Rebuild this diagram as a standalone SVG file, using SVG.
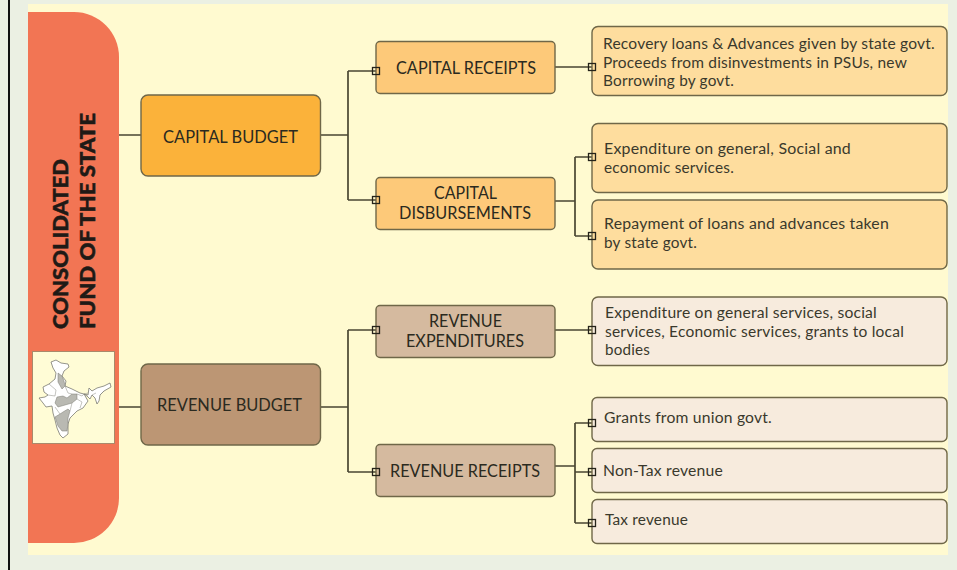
<svg xmlns="http://www.w3.org/2000/svg" width="957" height="570" viewBox="0 0 957 570">
<style>
.box{stroke:#6f6748;stroke-width:1.4}
.t{font-family:"Lato","Liberation Sans",sans-serif;fill:#2b2a20;text-anchor:start}
.h{font-size:17.5px}
.s{font-size:15.5px;letter-spacing:.2px;fill:#3a392c}
.title{font-family:"Lato","Liberation Sans",sans-serif;font-weight:900;font-size:21.5px;fill:#1f1a16;stroke:#1f1a16;stroke-width:.5}
.wire{fill:none;stroke:#4a4632;stroke-width:1.7}
.port{fill:none;stroke:#25231a;stroke-width:1.3}
.a{fill:#FBB23A}.b{fill:#FDC979}.c{fill:#FEDD9E}.d{fill:#BC9674}.e{fill:#D5BA9F}.f{fill:#F7EBDD}
</style>
<rect width="957" height="570" fill="#EBF0E3"/>
<rect x="8" y="0" width="2" height="570" fill="#111"/>
<rect x="28" y="4" width="920" height="551" fill="#FFFAD0"/>

<g id="fund">
<path d="M28 12H74A45 45 0 0 1 119 57V498A45 45 0 0 1 74 543H28Z" fill="#F27554"/>
<text class="title" transform="translate(68 329) rotate(-90)" textLength="170" lengthAdjust="spacingAndGlyphs">CONSOLIDATED</text>
<text class="title" transform="translate(95 329) rotate(-90)" textLength="216" lengthAdjust="spacingAndGlyphs">FUND OF THE STATE</text>
<rect x="32.500" y="351.500" width="82" height="92" fill="#FFFCD6" stroke="#a9896b" stroke-width="1"/>
<path d="M51 362L56 360L61 363L68 364L69 367L64 371L62 376L66 381L65 386L72 389L80 393L88 395L89 388L92 391L97 388L104 386L110 383L111 387L104 391L100 395L99 401L97 404L95 398L92 395L90 399L87 396L84 394L88 401L83 408L77 411L70 418L68 424L68 434L63 438L60 435L57 428L55 420L53 413L52 406L46 407L43 403L39 398L45 397L48 395L44 392L43 387L49 384L55 379L56 373L53 368Z" fill="#fff" stroke="#7b7b72" stroke-width=".8"/>
<path d="M58 373L62 376L64 381L65 386L62 389L58 382ZM55 403L57 397L63 396L67 398L72 394L77 394L77 399L72 403L65 405L58 407ZM55 417L60 414L63 412L68 409L70 411L68 418L68 424L67 431L62 431L58 426Z" fill="#b9b9b2" stroke="#7b7b72" stroke-width=".5"/>
<path d="M49 384L56 390L55 396L48 395M65 386L68 393L72 394M77 394L82 396L84 394M77 399L82 402L80 408M72 403L70 411M55 407L60 414M92 395L96 393M100 395L104 391M84 394L88 393" fill="none" stroke="#8a8a82" stroke-width=".5"/>
</g>

<g id="connectors">
<path class="wire" d="M119 407H141M119 135H141M320 135H348M348 71V200M348 71H376M348 200H376"/>
<path class="wire" d="M320 407H348M348 330V472M348 330H376M348 472H376"/>
<path class="wire" d="M555 67H592M555 201H575M575 157V236M575 157H592M575 236H592"/>
<path class="wire" d="M555 330H592M555 466H575M575 423V523M575 423H592M575 472H592M575 523H592"/>
</g>

<g id="capital-budget"><rect class="box a" x="141" y="95" width="179.500" height="81" rx="7"/><text class="t h" x="163" y="143" textLength="135" lengthAdjust="spacingAndGlyphs">CAPITAL BUDGET</text></g>
<g id="revenue-budget"><rect class="box d" x="141" y="364" width="179.500" height="81" rx="7"/><text class="t h" x="157" y="411" textLength="145" lengthAdjust="spacingAndGlyphs">REVENUE BUDGET</text></g>

<g id="capital-receipts"><rect class="box b" x="376" y="41.500" width="179" height="52" rx="4"/><text class="t h" x="396" y="74" textLength="140" lengthAdjust="spacingAndGlyphs">CAPITAL RECEIPTS</text></g>
<g id="capital-disbursements"><rect class="box b" x="376" y="177.500" width="179" height="52" rx="4"/><text class="t h" x="434" y="199" textLength="63" lengthAdjust="spacingAndGlyphs">CAPITAL</text><text class="t h" x="399" y="219" textLength="132" lengthAdjust="spacingAndGlyphs">DISBURSEMENTS</text></g>
<g id="revenue-expenditures"><rect class="box e" x="376" y="305.500" width="179" height="52" rx="4"/><text class="t h" x="429" y="327" textLength="73" lengthAdjust="spacingAndGlyphs">REVENUE</text><text class="t h" x="406" y="347" textLength="118" lengthAdjust="spacingAndGlyphs">EXPENDITURES</text></g>
<g id="revenue-receipts"><rect class="box e" x="376" y="444.500" width="179" height="52" rx="4"/><text class="t h" x="390" y="477" textLength="150" lengthAdjust="spacingAndGlyphs">REVENUE RECEIPTS</text></g>

<g id="recovery"><rect class="box c" x="592" y="26.500" width="355" height="69" rx="6"/>
<text class="t s" x="603" y="49" textLength="332" lengthAdjust="spacingAndGlyphs">Recovery loans &amp; Advances given by state govt.</text>
<text class="t s" x="603" y="67.500" textLength="304" lengthAdjust="spacingAndGlyphs">Proceeds from disinvestments in PSUs, new</text>
<text class="t s" x="603" y="86" textLength="131" lengthAdjust="spacingAndGlyphs">Borrowing by govt.</text></g>
<g id="expenditure-general"><rect class="box c" x="592" y="123.500" width="355" height="69" rx="6"/>
<text class="t s" x="604" y="154" textLength="247" lengthAdjust="spacingAndGlyphs">Expenditure on general, Social and</text>
<text class="t s" x="604" y="172.500" textLength="130" lengthAdjust="spacingAndGlyphs">economic services.</text></g>
<g id="repayment"><rect class="box c" x="592" y="200" width="355" height="69" rx="6"/>
<text class="t s" x="604" y="229" textLength="285" lengthAdjust="spacingAndGlyphs">Repayment of loans and advances taken</text>
<text class="t s" x="604" y="248" textLength="93" lengthAdjust="spacingAndGlyphs">by state govt.</text></g>
<g id="revenue-expenditure-detail"><rect class="box f" x="592" y="297" width="355" height="68.500" rx="6"/>
<text class="t s" x="605" y="318" textLength="272" lengthAdjust="spacingAndGlyphs">Expenditure on general services, social</text>
<text class="t s" x="605" y="337" textLength="299" lengthAdjust="spacingAndGlyphs">services, Economic services, grants to local</text>
<text class="t s" x="605" y="355" textLength="45" lengthAdjust="spacingAndGlyphs">bodies</text></g>
<g id="grants"><rect class="box f" x="592" y="397.500" width="355" height="44" rx="5"/><text class="t s" x="604" y="423" textLength="168" lengthAdjust="spacingAndGlyphs">Grants from union govt.</text></g>
<g id="non-tax"><rect class="box f" x="592" y="448.500" width="355" height="44" rx="5"/><text class="t s" x="603" y="476" textLength="120" lengthAdjust="spacingAndGlyphs">Non-Tax revenue</text></g>
<g id="tax"><rect class="box f" x="592" y="499.500" width="355" height="44" rx="5"/><text class="t s" x="605" y="525" textLength="83" lengthAdjust="spacingAndGlyphs">Tax revenue</text></g>

<g id="ports">
<rect class="port" x="372.500" y="67.500" width="7" height="7"/><rect class="port" x="372.500" y="196.500" width="7" height="7"/>
<rect class="port" x="372.500" y="326.500" width="7" height="7"/><rect class="port" x="372.500" y="468.500" width="7" height="7"/>
<rect class="port" x="588.500" y="63.500" width="7" height="7"/><rect class="port" x="588.500" y="153.500" width="7" height="7"/>
<rect class="port" x="588.500" y="232.500" width="7" height="7"/><rect class="port" x="588.500" y="326.500" width="7" height="7"/>
<rect class="port" x="588.500" y="419.500" width="7" height="7"/><rect class="port" x="588.500" y="468.500" width="7" height="7"/>
<rect class="port" x="588.500" y="519.500" width="7" height="7"/>
</g>
</svg>
